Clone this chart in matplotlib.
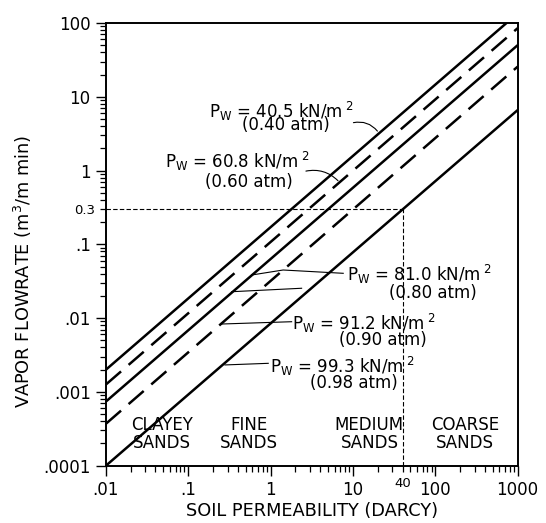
import matplotlib
matplotlib.use("Agg")
import matplotlib.pyplot as plt
from matplotlib.ticker import LogLocator, FixedLocator, FuncFormatter

plt.rcParams['font.family'] = ['DejaVu Sans']
plt.rcParams['mathtext.default'] = 'regular'

# permeability range (darcy) and flowrate at each end for each vacuum line
k_ends = [0.01, 1000]
q_left = [0.002, 0.00126, 0.00074, 0.00037, 0.0001]
q_right = [135, 85, 50, 25.6, 6.6]
line_styles = ['-', (0, (8, 4)), '-', (0, (8, 4)), '-']

pw_kn = ['40.5', '60.8', '81.0', '91.2', '99.3']
pw_atm = ['0.40', '0.60', '0.80', '0.90', '0.98']

soil_classes = ['CLAYEY\nSANDS', 'FINE\nSANDS', 'MEDIUM\nSANDS', 'COARSE\nSANDS']

x_major = [0.01, 0.1, 1, 10, 100, 1000]
x_labels = ['.01', '.1', '1', '10', '100', '1000']
y_major = [0.0001, 0.001, 0.01, 0.1, 1, 10, 100]
y_labels = ['.0001', '.001', '.01', '.1', '1', '10', '100']

ref_k = 40
ref_q = 0.3

fig = plt.figure(figsize=(5.46, 5.23), dpi=100)
ax = fig.add_axes([0.194, 0.1096, 0.754, 0.8464])

for ql, qr, ls in zip(q_left, q_right, line_styles):
    ax.plot(k_ends, [ql, qr], color='black', lw=1.8, linestyle=ls,
            solid_capstyle='butt', dash_capstyle='butt')

# reference dashed lines at 40 darcy / 0.3
ax.plot([k_ends[0], ref_k], [ref_q, ref_q], color='black', lw=0.8, linestyle=(0, (4, 2)))
ax.plot([ref_k, ref_k], [y_major[0], ref_q], color='black', lw=0.8, linestyle=(0, (4, 2)))

ax.set_xscale('log')
ax.set_yscale('log')
ax.set_xlim(0.01, 1000)
ax.set_ylim(0.0001, 100)

ax.xaxis.set_major_locator(FixedLocator(x_major))
ax.set_xticklabels(x_labels)
ax.yaxis.set_major_locator(FixedLocator(y_major))
ax.set_yticklabels(y_labels)
ax.xaxis.set_minor_locator(LogLocator(base=10, subs=range(2, 10)))
ax.yaxis.set_minor_locator(LogLocator(base=10, subs=range(2, 10)))
ax.xaxis.set_minor_formatter(FuncFormatter(lambda v, p: '40' if abs(v - ref_k) < 1e-6 else ''))
ax.yaxis.set_minor_formatter(FuncFormatter(lambda v, p: '0.3' if abs(v - ref_q) < 1e-9 else ''))

ax.tick_params(which='major', direction='out', length=7.5, width=1.0, labelsize=12,
               top=False, right=False)
ax.tick_params(which='minor', direction='out', length=4.5, width=0.9, labelsize=9.5,
               top=False, right=False)
for s in ax.spines.values():
    s.set_linewidth(1.4)

ax.set_xlabel('SOIL PERMEABILITY (DARCY)', fontsize=12.8, labelpad=2)
ax.set_ylabel('VAPOR FLOWRATE (m$^3$/m min)', fontsize=12.8, labelpad=4)
ax.yaxis.set_label_coords(-0.175, 0.44)

# pressure labels
tx = [0.250, 0.143, 0.585, 0.452, 0.398]
ty = [0.800, 0.687, 0.431, 0.322, 0.224]
ax2x = [0.438, 0.347, 0.794, 0.672, 0.602]
ax2y = [0.770, 0.6415, 0.389, 0.284, 0.187]
for i in range(5):
    ax.text(tx[i], ty[i], 'P$_W$ = %s kN/m$^{\\ 2}$' % pw_kn[i], transform=ax.transAxes,
            ha='left', va='center', fontsize=12)
    ax.text(ax2x[i], ax2y[i], '(%s atm)' % pw_atm[i], transform=ax.transAxes,
            ha='center', va='center', fontsize=12)

# leader lines
lk = dict(color='black', lw=0.8)
ax.annotate('', xy=(20.8, 3.2), xytext=(9.4, 4.37),
            arrowprops=dict(arrowstyle='-', connectionstyle='arc3,rad=-0.35', **lk))
ax.annotate('', xy=(6.95, 0.684), xytext=(2.49, 0.965),
            arrowprops=dict(arrowstyle='-', connectionstyle='arc3,rad=-0.3', **lk))
ax.plot([7.62, 1.42, 0.588], [0.0405, 0.0449, 0.0384], **lk)
ax.plot([2.38, 0.337], [0.0254, 0.0228], **lk)
ax.plot([1.80, 0.254], [0.00894, 0.00832], **lk)
ax.plot([0.936, 0.279], [0.00244, 0.00232], **lk)

# soil classes
sx = [0.137, 0.347, 0.640, 0.872]
for x, s in zip(sx, soil_classes):
    ax.text(x, 0.0716, s, transform=ax.transAxes, ha='center', va='center',
            fontsize=12, linespacing=1.0)

fig.savefig('out.png', dpi=100)
